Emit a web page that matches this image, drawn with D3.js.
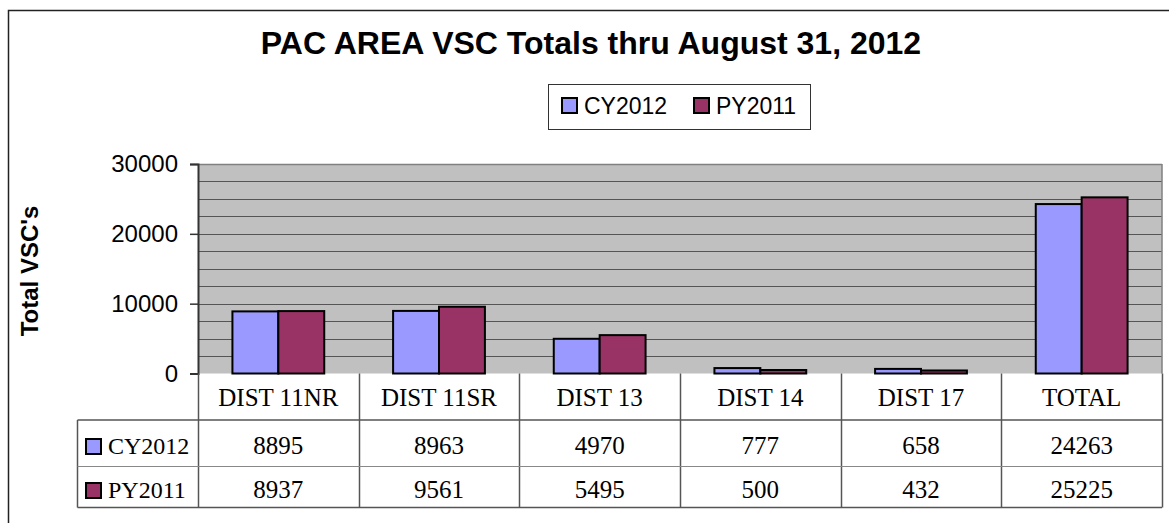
<!DOCTYPE html>
<html><head><meta charset="utf-8">
<script src="https://cdn.jsdelivr.net/npm/d3@7"></script>
<style>body{margin:0;background:#fff}svg{display:block}</style>
</head><body><div id="c"></div>
<script>
const categories = ["DIST 11NR","DIST 11SR","DIST 13","DIST 14","DIST 17","TOTAL"];
const seriesNames = ["CY2012","PY2011"];
const cy2012 = [8895,8963,4970,777,658,24263];
const py2011 = [8937,9561,5495,500,432,25225];
const yTicks = [0,10000,20000,30000];
const title = "PAC AREA VSC Totals thru August 31, 2012";
const yTitle = "Total VSC's";
const colors = ["#9999ff","#993366"];

const W=1169,H=523;
const svg=d3.select("#c").append("svg").attr("width",W).attr("height",H);
svg.append("rect").attr("x",8.5).attr("y",10.5).attr("width",1170).attr("height",530)
  .attr("fill","#fff").attr("stroke","#222").attr("stroke-width",1.5);

const L=198,R=1162,T=164,B=373.5;
const x=d3.scaleBand().domain(categories).range([L,R]);
const y=d3.scaleLinear().domain([0,30000]).range([B,T]);
const series=[cy2012,py2011];
const AF="Arial, 'Liberation Sans', sans-serif";

svg.append("rect").attr("x",L).attr("y",T).attr("width",R-L).attr("height",B-T).attr("fill","#c0c0c0");
const gridVals=d3.range(2500,30001,2500);
svg.append("g").selectAll("line").data(gridVals).join("line")
  .attr("x1",L).attr("x2",R).attr("y1",d=>Math.round(y(d))+0.5).attr("y2",d=>Math.round(y(d))+0.5)
  .attr("stroke",d=>d===30000?"#808080":"#555").attr("stroke-width",d=>d===30000?1.5:1);
svg.append("line").attr("x1",R).attr("x2",R).attr("y1",T).attr("y2",B).attr("stroke","#808080").attr("stroke-width",1.5);

const bw=x.bandwidth()/3.5;
categories.forEach((c,i)=>{
  series.forEach((s,j)=>{
    const x0=x(c)+bw*0.75+j*bw;
    svg.append("rect").attr("x",x0).attr("y",y(s[i])).attr("width",bw).attr("height",B-y(s[i]))
      .attr("fill",colors[j]).attr("stroke","#000").attr("stroke-width",2);
  });
});

// y axis
const yAxis=d3.axisLeft(y).tickValues(yTicks).tickSize(8).tickPadding(12).tickFormat(d3.format("d"));
const ga=svg.append("g").attr("transform",`translate(${L},0)`).call(yAxis);
ga.select(".domain").attr("stroke","#333").attr("stroke-width",2);
ga.selectAll(".tick line").attr("stroke","#333").attr("stroke-width",1.5);
ga.selectAll("text").attr("font-family",AF).attr("font-size",24).attr("fill","#000");

// titles
svg.append("text").attr("x",591).attr("y",54).attr("text-anchor","middle")
  .attr("font-family",AF).attr("font-weight","bold").attr("font-size",32).text(title);
svg.append("text").attr("transform","translate(38,271) rotate(-90)").attr("text-anchor","middle")
  .attr("font-family",AF).attr("font-weight","bold").attr("font-size",24).text(yTitle);

// legend
svg.append("rect").attr("x",548.5).attr("y",84.5).attr("width",262).attr("height",45).attr("fill","#fff").attr("stroke","#333").attr("stroke-width",1);
const legX=[562,694];
seriesNames.forEach((n,j)=>{
  svg.append("rect").attr("x",legX[j]).attr("y",98).attr("width",15).attr("height",15).attr("fill",colors[j]).attr("stroke","#000").attr("stroke-width",2);
  svg.append("text").attr("x",legX[j]+22).attr("y",114).attr("font-family",AF).attr("font-size",23).text(n);
});

// data table
const r0=B,r1=420,r2=466.5,r3=507.5,tL=77.5;
const tf="'Times New Roman','Liberation Serif', serif";
const tg=svg.append("g");
[...categories.map(c=>x(c)),R].forEach((xx,i)=>{
  tg.append("line").attr("x1",Math.round(xx)+0.5).attr("x2",Math.round(xx)+0.5).attr("y1",r0).attr("y2",r3)
    .attr("stroke","#555").attr("stroke-width",1.5);
});
tg.append("line").attr("x1",tL).attr("x2",tL).attr("y1",r1).attr("y2",r3).attr("stroke","#555").attr("stroke-width",1.5);
tg.append("line").attr("x1",tL).attr("x2",R).attr("y1",r1).attr("y2",r1).attr("stroke","#555").attr("stroke-width",1.5);
tg.append("line").attr("x1",tL).attr("x2",R).attr("y1",r2).attr("y2",r2).attr("stroke","#888").attr("stroke-width",1);
tg.append("line").attr("x1",tL).attr("x2",R).attr("y1",r3).attr("y2",r3).attr("stroke","#555").attr("stroke-width",1.5);
categories.forEach(c=>{
  tg.append("text").attr("x",x(c)+x.bandwidth()/2).attr("y",405.5).attr("text-anchor","middle")
    .attr("font-family",tf).attr("font-size",25).text(c);
});
const rowY=[454,498];
series.forEach((s,j)=>{
  tg.append("rect").attr("x",86).attr("y",rowY[j]-15).attr("width",15).attr("height",15).attr("fill",colors[j]).attr("stroke","#000").attr("stroke-width",2);
  tg.append("text").attr("x",108).attr("y",rowY[j]).attr("font-family",tf).attr("font-size",24).text(seriesNames[j]);
  s.forEach((v,i)=>{
    tg.append("text").attr("x",x(categories[i])+x.bandwidth()/2).attr("y",rowY[j]).attr("text-anchor","middle")
      .attr("font-family",tf).attr("font-size",25).text(v);
  });
});
</script></body></html>
